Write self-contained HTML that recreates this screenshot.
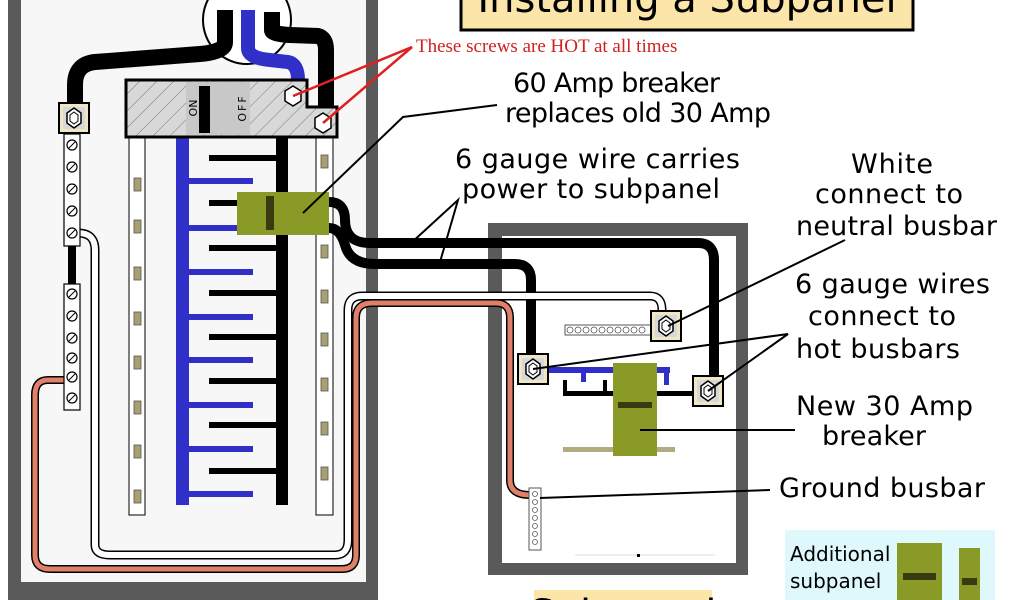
<!DOCTYPE html>
<html><head><meta charset="utf-8"><style>
html,body{margin:0;padding:0;background:#fff;width:1024px;height:600px;overflow:hidden;}
svg{display:block;overflow:hidden;}
text{font-family:"DejaVu Sans","Liberation Sans",sans-serif;fill:#000;}
</style></head><body>
<svg width="1024" height="600" viewBox="0 0 1024 600" xmlns="http://www.w3.org/2000/svg">
<defs>
<pattern id="hatch" width="12" height="12" patternUnits="userSpaceOnUse" patternTransform="rotate(45)">
<rect width="12" height="12" fill="#d8d8d8"/><line x1="0" y1="0" x2="0" y2="12" stroke="#777" stroke-width="1"/>
</pattern>
<clipPath id="cl"><rect width="1024" height="600"/></clipPath>
<g id="lug"><rect x="-15" y="-15" width="30" height="30" fill="#efe6c4" stroke="#000" stroke-width="2"/><rect x="-11" y="-11" width="22" height="22" fill="#d8d8d8"/><polygon points="0,-10 7,-5 7,5 0,10 -7,5 -7,-5" fill="#fff" stroke="#000" stroke-width="1.5"/><polygon points="0,-6 4,-3 4,3 0,6 -4,3 -4,-3" fill="none" stroke="#000" stroke-width="1"/></g>
<g id="scr"><circle r="5" fill="#fff" stroke="#000" stroke-width="1.2"/><line x1="-3" y1="3" x2="3" y2="-3" stroke="#000"/></g>
</defs>
<g clip-path="url(#cl)">
<rect width="1024" height="600" fill="#fff"/>
<rect x="8" y="0" width="370" height="600" fill="#5a5a5a"/>
<rect x="21" y="0" width="345" height="582" fill="#f7f7f7"/>
<circle cx="247" cy="20" r="44" fill="#fff" stroke="#000" stroke-width="2"/>
<path d="M225,10 L225,42 Q225,52 200,54 L95,62 Q75,64 75,85 L75,105" fill="none" stroke="#000" stroke-width="16"/>
<path d="M248,10 L248,48 Q248,58 270,60 L288,62 Q298,64 298,80" fill="none" stroke="#3030c8" stroke-width="14"/>
<path d="M272,12 L272,30 Q272,34 290,35 L318,36 Q326,38 326,50 L326,112" fill="none" stroke="#000" stroke-width="16"/>
<path d="M78,233 Q95,233 95,250 L95,545 Q95,555 110,555 L335,555 Q348,555 348,540 L348,310 Q348,296 362,296 L650,296 Q662,296 662,310 L662,318" fill="none" stroke="#000" stroke-width="9"/>
<path d="M78,233 Q95,233 95,250 L95,545 Q95,555 110,555 L335,555 Q348,555 348,540 L348,310 Q348,296 362,296 L650,296 Q662,296 662,310 L662,318" fill="none" stroke="#fff" stroke-width="6"/>
<path d="M66,380 L48,380 Q35,380 35,395 L35,555 Q35,569 50,569 L342,569 Q356,569 356,555 L356,318 Q356,303 372,303 L496,303 Q510,303 510,318 L510,480 Q510,495 530,495" fill="none" stroke="#000" stroke-width="8"/>
<path d="M66,380 L48,380 Q35,380 35,395 L35,555 Q35,569 50,569 L342,569 Q356,569 356,555 L356,318 Q356,303 372,303 L496,303 Q510,303 510,318 L510,480 Q510,495 530,495" fill="none" stroke="#e08068" stroke-width="5"/>
<rect x="64" y="134" width="16" height="112" fill="#fff" stroke="#000" stroke-width="1.2"/>
<use href="#scr" x="72" y="145"/><use href="#scr" x="72" y="167"/><use href="#scr" x="72" y="189"/><use href="#scr" x="72" y="211"/><use href="#scr" x="72" y="233"/>
<rect x="68" y="246" width="8" height="38" fill="#000"/>
<rect x="64" y="284" width="16" height="126" fill="#fff" stroke="#000" stroke-width="1.2"/>
<use href="#scr" x="72" y="294"/><use href="#scr" x="72" y="316"/><use href="#scr" x="72" y="338"/><use href="#scr" x="72" y="358"/><use href="#scr" x="72" y="377"/><use href="#scr" x="72" y="398"/>
<use href="#lug" x="74" y="118"/>
<rect x="129" y="138" width="16" height="377" fill="#fff" stroke="#000"/>
<rect x="316" y="138" width="17" height="377" fill="#fff" stroke="#000"/>
<g fill="#a8a070" stroke="#555" stroke-width="0.8">
<rect x="134" y="178" width="7" height="13"/><rect x="134" y="220" width="7" height="13"/><rect x="134" y="267" width="7" height="13"/><rect x="134" y="312" width="7" height="13"/><rect x="134" y="356" width="7" height="13"/><rect x="134" y="401" width="7" height="13"/><rect x="134" y="445" width="7" height="13"/><rect x="134" y="490" width="7" height="13"/>
<rect x="321" y="155" width="7" height="13"/><rect x="321" y="245" width="7" height="13"/><rect x="321" y="290" width="7" height="13"/><rect x="321" y="333" width="7" height="13"/><rect x="321" y="378" width="7" height="13"/><rect x="321" y="422" width="7" height="13"/><rect x="321" y="467" width="7" height="13"/>
</g>
<rect x="176" y="138" width="13" height="367" fill="#3030c8"/>
<rect x="276" y="138" width="12" height="367" fill="#000"/>
<g fill="#000">
<rect x="209" y="155" width="67" height="6"/><rect x="209" y="200" width="67" height="6"/><rect x="209" y="245" width="67" height="6"/><rect x="209" y="290" width="67" height="6"/><rect x="209" y="334" width="67" height="6"/><rect x="209" y="378" width="67" height="6"/><rect x="209" y="422" width="67" height="6"/><rect x="209" y="468" width="67" height="6"/>
</g>
<g fill="#3030c8">
<rect x="189" y="178" width="64" height="6"/><rect x="189" y="225" width="64" height="6"/><rect x="189" y="269" width="64" height="6"/><rect x="189" y="314" width="64" height="6"/><rect x="189" y="357" width="64" height="6"/><rect x="189" y="402" width="64" height="6"/><rect x="189" y="446" width="64" height="6"/><rect x="189" y="491" width="64" height="6"/>
</g>
<path d="M126,80 L307,80 L307,107 L337,107 L337,137 L126,137 Z" fill="url(#hatch)" stroke="#000" stroke-width="3"/>
<rect x="186" y="82" width="64" height="53" fill="#c8c8c8"/>
<rect x="199" y="86" width="11" height="47" fill="#000"/>
<text transform="translate(197,108) rotate(-90)" font-size="11" text-anchor="middle">ON</text>
<text transform="translate(246,108) rotate(-90)" font-size="11" text-anchor="middle" letter-spacing="2">OFF</text>
<polygon points="293,86 301,91 301,101 293,106 285,101 285,91" fill="#fff" stroke="#000" stroke-width="1.5"/>
<polygon points="323,113 331,118 331,128 323,133 315,128 315,118" fill="#fff" stroke="#000" stroke-width="1.5"/>
<path d="M329,202 Q345,202 345,220 Q345,243 370,243 L698,243 Q714,243 714,260 L714,392" fill="none" stroke="#000" stroke-width="10"/>
<path d="M329,228 Q340,228 345,245 Q350,264 375,264 L515,264 Q531,264 531,280 L531,362" fill="none" stroke="#000" stroke-width="10"/>
<rect x="237" y="192" width="92" height="43" fill="#8a9a26"/>
<rect x="266" y="196" width="8" height="34" fill="#3a3a10"/>
<rect x="488" y="223" width="260" height="352" fill="#5a5a5a"/>
<rect x="502" y="236" width="234" height="327" fill="#fff"/>
<path d="M374,243 L698,243 Q714,243 714,260 L714,392" fill="none" stroke="#000" stroke-width="10"/>
<path d="M375,264 L515,264 Q531,264 531,280 L531,362" fill="none" stroke="#000" stroke-width="10"/>
<path d="M488,296 L650,296 Q662,296 662,310 L662,318" fill="none" stroke="#000" stroke-width="9"/>
<path d="M488,296 L650,296 Q662,296 662,310 L662,318" fill="none" stroke="#fff" stroke-width="6"/>
<path d="M488,303 L496,303 Q510,303 510,318 L510,480 Q510,495 530,495" fill="none" stroke="#000" stroke-width="8"/>
<path d="M488,303 L496,303 Q510,303 510,318 L510,480 Q510,495 530,495" fill="none" stroke="#e08068" stroke-width="5"/>
<rect x="565" y="325" width="86" height="10" fill="#fff" stroke="#555"/>
<g fill="none" stroke="#555" stroke-width="0.8"><circle cx="570" cy="330" r="3"/><circle cx="578" cy="330" r="3"/><circle cx="586" cy="330" r="3"/><circle cx="594" cy="330" r="3"/><circle cx="602" cy="330" r="3"/><circle cx="610" cy="330" r="3"/><circle cx="618" cy="330" r="3"/><circle cx="626" cy="330" r="3"/><circle cx="634" cy="330" r="3"/><circle cx="642" cy="330" r="3"/></g>
<rect x="529" y="488" width="12" height="62" fill="#fff" stroke="#555"/>
<g fill="none" stroke="#555" stroke-width="0.8"><circle cx="535" cy="494" r="2.5"/><circle cx="535" cy="502" r="2.5"/><circle cx="535" cy="510" r="2.5"/><circle cx="535" cy="518" r="2.5"/><circle cx="535" cy="526" r="2.5"/><circle cx="535" cy="534" r="2.5"/><circle cx="535" cy="542" r="2.5"/></g>
<rect x="546" y="367" width="124" height="6" fill="#3030c8"/>
<rect x="581" y="367" width="5" height="15" fill="#3030c8"/><rect x="664" y="367" width="5" height="18" fill="#3030c8"/>
<rect x="563" y="391" width="131" height="5" fill="#000"/>
<rect x="563" y="380" width="4" height="14" fill="#000"/><rect x="603" y="380" width="4" height="14" fill="#000"/>
<rect x="563" y="447" width="112" height="5" fill="#b0ab80"/>
<rect x="613" y="363" width="44" height="93" fill="#8a9a26"/>
<rect x="618" y="402" width="34" height="6" fill="#3a3a10"/>
<line x1="575" y1="555" x2="715" y2="555" stroke="#ddd"/>
<rect x="637" y="554" width="3" height="3" fill="#000"/>
<use href="#lug" x="666" y="326"/>
<use href="#lug" x="533" y="369"/>
<use href="#lug" x="708" y="391"/>
<rect x="461" y="-10" width="452" height="40" fill="#fbe5a8" stroke="#000" stroke-width="3"/>
<text x="687" y="12" font-size="40" text-anchor="middle">Installing a Subpanel</text>
<rect x="534" y="590" width="178" height="10" fill="#fbe5a8"/>
<text x="623" y="628" font-size="40" text-anchor="middle">Subpanel</text>
<g stroke="#e02020" stroke-width="2.5" fill="none"><polyline points="293,96 412,47 323,123"/></g>
<text x="416" y="52" font-size="19" style="fill:#d02020;font-family:'Liberation Serif',serif">These screws are HOT at all times</text>
<g stroke="#000" stroke-width="2" fill="none">
<polyline points="497,105 403,117 303,213"/>
<polyline points="410,244 458,200 440,262"/>
<line x1="845" y1="240" x2="668" y2="326"/>
<polyline points="533,369 788,334 708,391"/>
<line x1="795" y1="430" x2="640" y2="430"/>
<line x1="770" y1="490" x2="540" y2="498"/>
</g>
<g font-size="27">
<text x="513" y="92" textLength="207">60 Amp breaker</text>
<text x="505" y="122" textLength="266">replaces old 30 Amp</text>
<text x="455" y="168" textLength="285">6 gauge wire carries</text>
<text x="462" y="198" textLength="258">power to subpanel</text>
<text x="851" y="173" textLength="82">White</text>
<text x="815" y="203" textLength="148">connect to</text>
<text x="796" y="235" textLength="201">neutral busbar</text>
<text x="795" y="293" textLength="195">6 gauge wires</text>
<text x="808" y="325" textLength="148">connect to</text>
<text x="796" y="358" textLength="164">hot busbars</text>
<text x="796" y="415" textLength="177">New 30 Amp</text>
<text x="822" y="445" textLength="104">breaker</text>
<text x="779" y="497" textLength="206">Ground busbar</text>
</g>
<rect x="785" y="530" width="210" height="70" fill="#dff8fb"/>
<text x="790" y="561" font-size="20">Additional</text>
<text x="790" y="588" font-size="20">subpanel</text>
<rect x="897" y="543" width="45" height="57" fill="#8a9a26"/>
<rect x="903" y="573" width="33" height="7" fill="#3a3a10"/>
<rect x="959" y="548" width="21" height="52" fill="#8a9a26"/>
<rect x="962" y="578" width="15" height="7" fill="#3a3a10"/>
</g>
</svg>
</body></html>
